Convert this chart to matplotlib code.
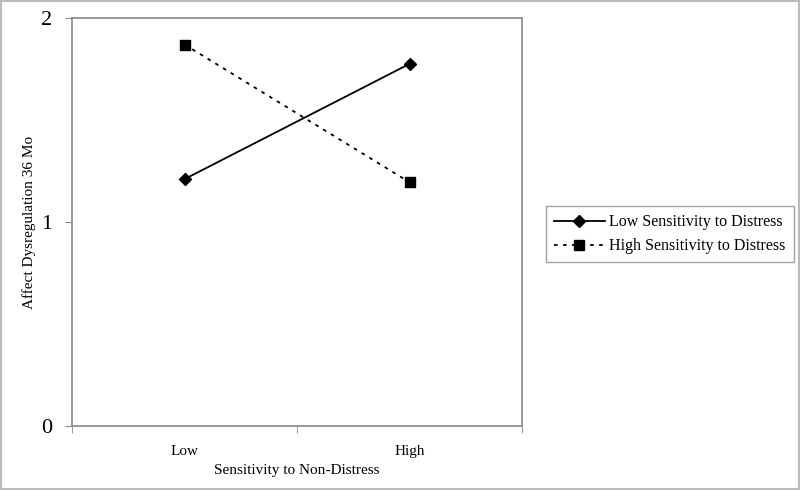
import matplotlib.pyplot as plt
from matplotlib.patches import Rectangle

plt.rcParams['font.family'] = ['Liberation Serif', 'DejaVu Serif']

categories = ['Low', 'High']
low_distress = [1.21, 1.775]
high_distress = [1.87, 1.195]
series_names = ['Low Sensitivity to Distress', 'High Sensitivity to Distress']

fig = plt.figure(figsize=(8, 4.9), dpi=100)
ax = fig.add_axes([0.09, 0.1306, 0.5625, 0.8327])

x = list(range(len(categories)))
ax.plot(x, low_distress, color='black', linestyle='-', linewidth=1.3,
        marker='D', markersize=6, label=series_names[0])
ax.plot(x, high_distress, color='black', linestyle=(0, (2, 3)), linewidth=1.3,
        marker='s', markersize=7, label=series_names[1])

ax.set_xlim(-0.5, 1.5)
ax.set_ylim(0, 2)
ax.set_yticks([0, 1, 2])
ax.set_xticks(x)
ax.set_xticklabels(categories)
ax.set_xticks([-0.5, 0.5, 1.5], minor=True)
ax.tick_params(axis='x', which='major', length=0, pad=14, labelsize=11)
ax.tick_params(axis='x', which='minor', length=5, color='#888888', direction='out')
ax.tick_params(axis='y', length=5, color='#888888', labelsize=16, pad=9)

for s in ax.spines.values():
    s.set_color('#888888')
    s.set_linewidth(1.2)

ax.set_xlabel('Sensitivity to Non-Distress', fontsize=11, labelpad=4)
ax.set_ylabel('Affect Dysregulation 36 Mo', fontsize=11)
ax.yaxis.set_label_coords(-0.08, 0.5)

leg = fig.legend(loc='center left', bbox_to_anchor=(0.672, 0.522), fontsize=11.5,
                 frameon=True, fancybox=False, edgecolor='#888888',
                 handlelength=3.2, borderpad=0.5, labelspacing=0.5, handletextpad=0.3)
leg.get_frame().set_linewidth(1.0)

fig.patches.append(Rectangle((0.001, 0.002), 0.998, 0.996, transform=fig.transFigure,
                             fill=False, edgecolor='#bbbbbb', linewidth=1.5))

fig.savefig('out.png', dpi=100)
